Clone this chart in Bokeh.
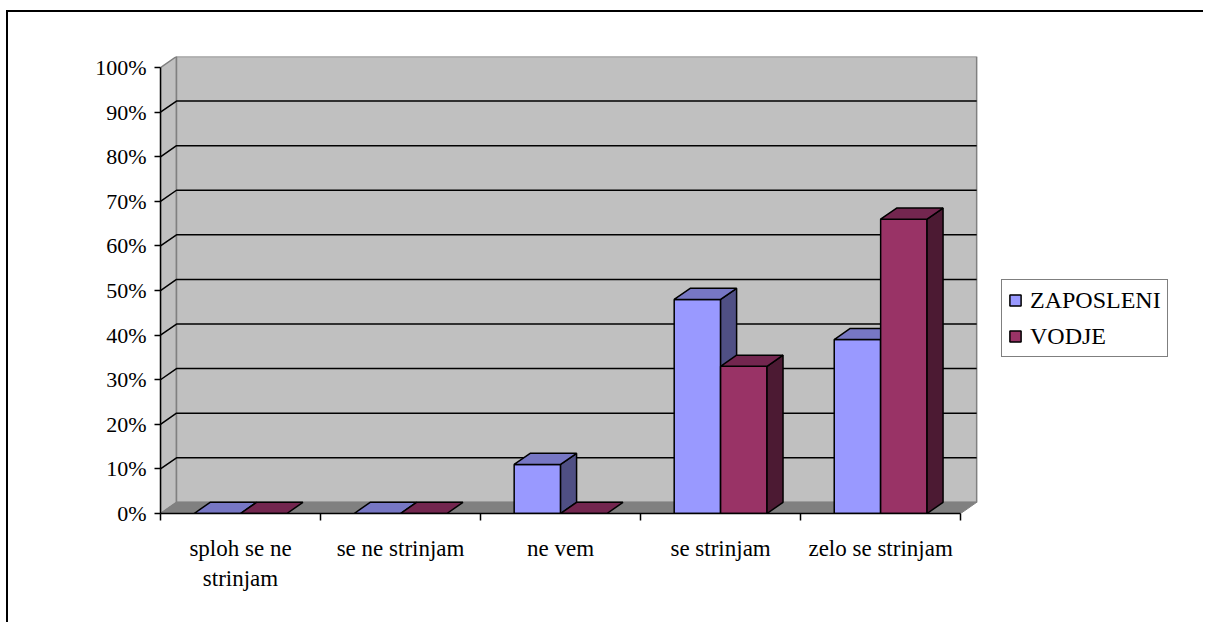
from bokeh.plotting import figure
from bokeh.models import (Range1d, LinearAxis, FixedTicker, PrintfTickFormatter,
                          ColumnDataSource, Legend, LegendItem)
from bokeh.embed import file_html
from bokeh.resources import INLINE

# survey answers (share of respondents, %)
categories = ["sploh se ne\nstrinjam", "se ne strinjam", "ne vem", "se strinjam", "zelo se strinjam"]
zaposleni = [0, 0, 11, 48, 39]
vodje = [0, 0, 0, 33, 66]
series_names = ["ZAPOSLENI", "VODJE"]
y_ticks = [0, 10, 20, 30, 40, 50, 60, 70, 80, 90, 100]

# colours: front face, top face, side face
FACE = {"ZAPOSLENI": ("#9999FF", "#7777C4", "#4F4F84"),
        "VODJE": ("#993366", "#73264F", "#4C1A33")}
WALL = "#C0C0C0"
FLOOR = "#808080"
EDGE = "#808080"
SERIF = "Liberation Serif"

# 3-D projection offsets (in data units) and bar width
DX, DY = 0.1, 2.5
BAR_W = 0.29
N = len(categories)
# plot area runs on to the right so the legend can sit beside the walls
X_END = 6.48

p = figure(width=1197, height=612,
           x_range=Range1d(0, X_END), y_range=Range1d(0, 100 + DY),
           x_axis_type=None, y_axis_type=None,
           output_backend="svg", toolbar_location=None,
           min_border_left=152, min_border_right=8,
           min_border_top=44, min_border_bottom=111,
           outline_line_color=None, background_fill_color="white",
           border_fill_color="white",
           margin=(10, 0, 0, 6),
           styles={"border-top": "2px solid black", "border-left": "2px solid black"})

# walls and floor
p.patch([0, 0, DX, DX], [0, 100, 100 + DY, DY], fill_color=WALL, line_color=EDGE, line_width=1.5)
p.patch([DX, DX, N + DX, N + DX], [DY, 100 + DY, 100 + DY, DY], fill_color=WALL, line_color=EDGE, line_width=1.5)
p.patch([0, N, N + DX, DX], [0, 0, DY, DY], fill_color=FLOOR, line_color=EDGE, line_width=1)

# gridlines on side and back wall
gx, gy = [], []
for v in y_ticks[1:-1]:
    gx.append([0, DX, N + DX])
    gy.append([v, v + DY, v + DY])
p.multi_line(gx, gy, line_color="black", line_width=1.5)

# bars built face by face
xs, ys, fills = [], [], []
for i in range(N):
    c = i + 0.5
    for name, vals, x0 in ((series_names[0], zaposleni, c - BAR_W), (series_names[1], vodje, c)):
        v = vals[i]
        x1 = x0 + BAR_W
        front, top, side = FACE[name]
        if v > 0:
            xs.append([x0, x1, x1, x0]); ys.append([0, 0, v, v]); fills.append(front)
            xs.append([x1, x1 + DX, x1 + DX, x1]); ys.append([0, DY, v + DY, v]); fills.append(side)
        xs.append([x0, x1, x1 + DX, x0 + DX]); ys.append([v, v, v + DY, v + DY]); fills.append(top)

bars = ColumnDataSource(dict(xs=xs, ys=ys, fill=fills))
p.patches("xs", "ys", source=bars, fill_color="fill", line_color="black", line_width=1.5)

# axes
yaxis = LinearAxis(ticker=FixedTicker(ticks=y_ticks), formatter=PrintfTickFormatter(format="%d%%"),
                   bounds=(0, 100))
yaxis.axis_line_color = "black"
yaxis.axis_line_width = 1.5
yaxis.major_tick_line_color = "black"
yaxis.major_tick_line_width = 1.5
yaxis.major_tick_out = 6
yaxis.major_tick_in = 0
yaxis.minor_tick_line_color = None
yaxis.major_label_standoff = 8
yaxis.major_label_text_font = SERIF
yaxis.major_label_text_font_size = "22px"
yaxis.major_label_text_color = "black"
p.add_layout(yaxis, "left")

xaxis = LinearAxis(ticker=FixedTicker(ticks=[i + 0.5 for i in range(N)],
                                      minor_ticks=list(range(N + 1))),
                   bounds=(0, N))
xaxis.major_label_overrides = {i + 0.5: categories[i] for i in range(N)}
xaxis.axis_line_color = "black"
xaxis.axis_line_width = 1.5
xaxis.major_tick_line_color = None
xaxis.minor_tick_line_color = "black"
xaxis.minor_tick_line_width = 1.5
xaxis.minor_tick_out = 7
xaxis.minor_tick_in = 0
xaxis.major_tick_out = 0
xaxis.major_tick_in = 0
xaxis.major_label_standoff = 15
xaxis.major_label_text_font = SERIF
xaxis.major_label_text_font_size = "23px"
xaxis.major_label_text_color = "black"
xaxis.major_label_text_line_height = 1.2
p.add_layout(xaxis, "below")

# legend swatches (one off-screen point each, so the legend has something to draw)
def swatch(color):
    src = ColumnDataSource(dict(left=[-2.0], right=[-1.9], top=[-2.0], bottom=[-3.0]))
    return p.quad(source=src, left="left", right="right", top="top", bottom="bottom",
                  fill_color=color, line_color="black", line_width=1.5)

r1 = swatch(FACE["ZAPOSLENI"][0])
r2 = swatch(FACE["VODJE"][0])
legend = Legend(items=[LegendItem(label=series_names[0], renderers=[r1]),
                       LegendItem(label=series_names[1], renderers=[r2])],
                location=(841, 156), orientation="vertical",
                border_line_color="black", border_line_width=1.5,
                background_fill_color="white", background_fill_alpha=1,
                label_text_font=SERIF, label_text_font_size="24px",
                label_text_color="black",
                glyph_width=14, glyph_height=14, label_standoff=8,
                padding=6, spacing=8, label_height=28, margin=0)
p.add_layout(legend, "center")

open("out.html", "w").write(file_html(p, INLINE))
